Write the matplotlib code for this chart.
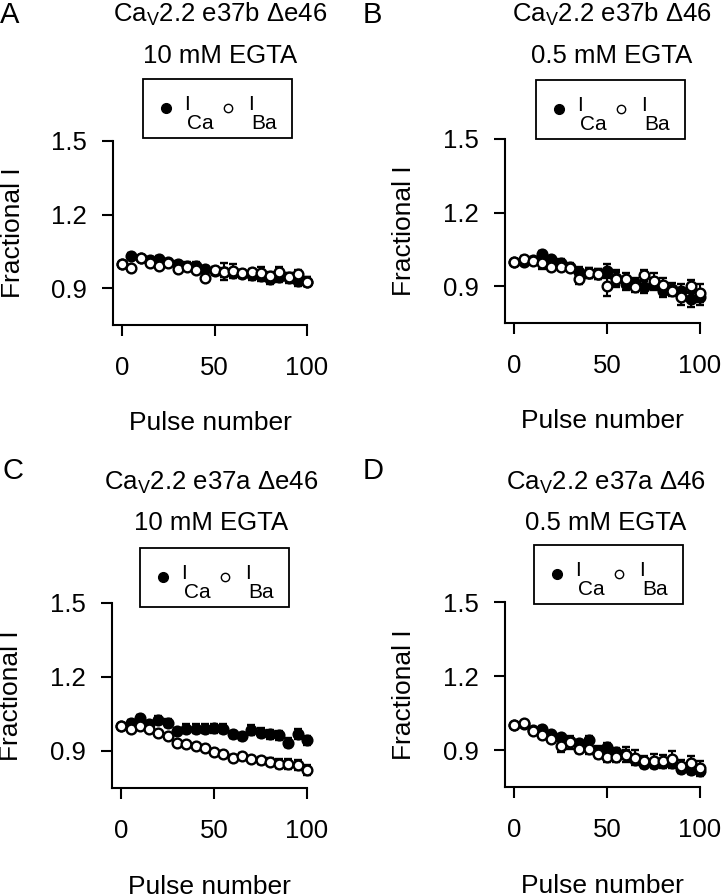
import matplotlib
matplotlib.use("Agg")
import matplotlib.pyplot as plt
from matplotlib.lines import Line2D
from matplotlib.patches import Rectangle
from matplotlib.transforms import Affine2D

plt.rcParams['font.family'] = ['Liberation Sans', 'DejaVu Sans']
plt.rcParams['mathtext.fontset'] = 'custom'
plt.rcParams['mathtext.rm'] = 'Liberation Sans'
plt.rcParams['mathtext.it'] = 'Liberation Sans:italic'

FS = 18.5
LFS = 15

pulses = [0, 5, 10, 15, 20, 25, 30, 35, 40, 45, 50, 55, 60, 65, 70, 75, 80, 85, 90, 95, 100]

A_ca = [1.00, 1.032, 1.022, 1.015, 1.018, 1.005, 1.000, 0.990, 0.990, 0.977, 0.970, 0.964, 0.960, 0.958, 0.954, 0.950, 0.937, 0.945, 0.940, 0.931, 0.927]
A_ca_err = [0.0, 0.012, 0.010, 0.012, 0.012, 0.012, 0.012, 0.015, 0.015, 0.015, 0.015, 0.020, 0.018, 0.018, 0.020, 0.020, 0.020, 0.020, 0.020, 0.020, 0.020]
A_ba = [1.00, 0.981, 1.022, 1.004, 0.992, 1.001, 0.977, 0.988, 0.974, 0.940, 0.974, 0.968, 0.972, 0.961, 0.965, 0.963, 0.950, 0.968, 0.945, 0.958, 0.927]
A_ba_err = [0.0, 0.008, 0.008, 0.010, 0.010, 0.010, 0.010, 0.010, 0.010, 0.010, 0.012, 0.035, 0.028, 0.015, 0.015, 0.025, 0.015, 0.020, 0.015, 0.015, 0.020]

B_ca = [1.00, 0.999, 1.005, 1.030, 1.010, 0.996, 0.980, 0.958, 0.955, 0.950, 0.962, 0.935, 0.908, 0.915, 0.897, 0.908, 0.881, 0.888, 0.881, 0.847, 0.854]
B_ca_err = [0.0, 0.010, 0.012, 0.015, 0.015, 0.015, 0.015, 0.020, 0.020, 0.020, 0.030, 0.030, 0.025, 0.020, 0.025, 0.025, 0.025, 0.025, 0.030, 0.030, 0.030]
B_ba = [1.00, 1.012, 1.003, 0.996, 0.980, 0.980, 0.976, 0.931, 0.955, 0.951, 0.901, 0.928, 0.928, 0.895, 0.945, 0.922, 0.904, 0.881, 0.854, 0.899, 0.872]
B_ba_err = [0.0, 0.010, 0.010, 0.025, 0.015, 0.015, 0.015, 0.020, 0.020, 0.020, 0.040, 0.030, 0.025, 0.020, 0.020, 0.030, 0.030, 0.020, 0.030, 0.025, 0.035]

C_ca = [1.00, 1.014, 1.032, 1.010, 1.025, 1.014, 0.980, 0.990, 0.990, 0.990, 0.992, 0.990, 0.967, 0.960, 0.985, 0.974, 0.967, 0.963, 0.934, 0.970, 0.944]
C_ca_err = [0.0, 0.010, 0.012, 0.012, 0.015, 0.015, 0.015, 0.018, 0.018, 0.018, 0.018, 0.018, 0.015, 0.015, 0.020, 0.018, 0.018, 0.018, 0.018, 0.020, 0.018]
C_ba = [1.00, 0.991, 1.000, 0.990, 0.974, 0.960, 0.934, 0.930, 0.920, 0.913, 0.897, 0.887, 0.873, 0.880, 0.869, 0.862, 0.857, 0.849, 0.849, 0.844, 0.823]
C_ba_err = [0.0, 0.005, 0.006, 0.006, 0.008, 0.008, 0.008, 0.008, 0.010, 0.010, 0.010, 0.012, 0.012, 0.012, 0.012, 0.015, 0.015, 0.018, 0.020, 0.020, 0.020]

D_ca = [1.00, 1.005, 0.980, 0.985, 0.965, 0.951, 0.938, 0.927, 0.940, 0.897, 0.911, 0.890, 0.881, 0.860, 0.843, 0.843, 0.846, 0.846, 0.823, 0.819, 0.816]
D_ca_err = [0.0, 0.008, 0.010, 0.012, 0.012, 0.015, 0.015, 0.015, 0.018, 0.018, 0.018, 0.018, 0.018, 0.018, 0.015, 0.015, 0.015, 0.018, 0.018, 0.018, 0.020]
D_ba = [1.00, 1.009, 0.976, 0.962, 0.945, 0.918, 0.931, 0.904, 0.904, 0.884, 0.873, 0.870, 0.881, 0.868, 0.857, 0.857, 0.854, 0.864, 0.836, 0.846, 0.827]
D_ba_err = [0.0, 0.005, 0.008, 0.010, 0.010, 0.025, 0.025, 0.015, 0.020, 0.015, 0.020, 0.020, 0.030, 0.030, 0.020, 0.025, 0.025, 0.030, 0.025, 0.030, 0.030]

titles1 = [r'Ca$_\mathregular{V}$2.2 e37b Δe46', r'Ca$_\mathregular{V}$2.2 e37b Δ46',
           r'Ca$_\mathregular{V}$2.2 e37a Δe46', r'Ca$_\mathregular{V}$2.2 e37a Δ46']
titles2 = ['10 mM EGTA', '0.5 mM EGTA', '10 mM EGTA', '0.5 mM EGTA']
letters = ['A', 'B', 'C', 'D']
yticks = [0.9, 1.2, 1.5]
ytick_labels = ['0.9', '1.2', '1.5']
xticks = [0, 50, 100]
xtick_labels = ['0', '50', '100']
legend_main = ['I', 'I']
legend_subs = ['Ca', 'Ba']

W, H = 722, 894
fig = plt.figure(figsize=(W / 100, H / 100), dpi=100)
# pixel coordinates measured from the top-left corner
px = Affine2D().scale(1 / W, -1 / H).translate(0, 1) + fig.transFigure

# axes rectangles in pixels: left, top(1.5), right(100), bottom spine
rects = [(113, 141, 307, 325), (505, 139, 700, 323), (112, 603, 307, 788), (505, 602, 700, 787)]
title_x = [220, 612, 211, 606]
title_base = [(22, 63), (22, 63), (490, 530), (490, 530)]
letter_pos = [(0, 23), (363, 23), (3, 479), (363, 479)]
legend_box = [(143, 79), (536, 80), (140, 548), (534, 545)]
LW_BOX, LH_BOX = 149, 59

data = [(A_ca, A_ca_err, A_ba, A_ba_err), (B_ca, B_ca_err, B_ba, B_ba_err),
        (C_ca, C_ca_err, C_ba, C_ba_err), (D_ca, D_ca_err, D_ba, D_ba_err)]

for i in range(4):
    l, t, r, b = rects[i]
    ax = fig.add_axes([l / W, 1 - b / H, (r - l) / W, (b - t) / H])
    ca, ca_err, ba, ba_err = data[i]
    ax.errorbar(pulses, ca, yerr=ca_err, fmt='o', color='black', mfc='black', mec='black',
                ms=7, mew=1.7, elinewidth=1.5, capsize=3, capthick=1.5, zorder=3, clip_on=False)
    ax.errorbar(pulses, ba, yerr=ba_err, fmt='o', color='black', mfc='white', mec='black',
                ms=7, mew=1.7, elinewidth=1.5, capsize=3, capthick=1.5, zorder=4, clip_on=False)
    ax.set_xlim(-5, 100)
    ax.set_ylim(0.75, 1.5)
    ax.set_xticks(xticks)
    ax.set_xticklabels(xtick_labels)
    ax.set_yticks(yticks)
    ax.set_yticklabels(ytick_labels)
    for s in ['top', 'right']:
        ax.spines[s].set_visible(False)
    for s in ['left', 'bottom']:
        ax.spines[s].set_linewidth(1.5)
    ax.tick_params(axis='both', direction='out', length=8, width=1.5, labelsize=FS)
    ax.tick_params(axis='x', pad=14)
    ax.tick_params(axis='y', pad=11)
    ax.set_ylabel('Fractional I', fontsize=FS + 0.5)
    ax.set_xlabel('Pulse number', fontsize=FS + 0.5)
    ax.yaxis.set_label_coords(-0.455, 0.5)
    ax.xaxis.set_label_coords(0.5, -0.47)

    # legend box drawn by hand (markers with the label's subscript set well below)
    bx, by = legend_box[i]
    fig.add_artist(Rectangle((bx, by + LH_BOX), LW_BOX, -LH_BOX, transform=px, fill=True,
                             facecolor='white', edgecolor='black', linewidth=1.3))
    fig.add_artist(Line2D([bx + 23], [by + 29], transform=px, ls='none', marker='o',
                          mfc='black', mec='black', ms=7, mew=1.0))
    fig.add_artist(Line2D([bx + 85], [by + 29], transform=px, ls='none', marker='o',
                          mfc='white', mec='black', ms=6, mew=1.0))
    for k, ox in enumerate([41, 105]):
        fig.text((bx + ox) / W, 1 - (by + 31) / H, legend_main[k], ha='left', va='baseline', fontsize=LFS)
        fig.text((bx + ox + 3) / W, 1 - (by + 50) / H, legend_subs[k], ha='left', va='baseline', fontsize=LFS)

    tx = title_x[i]
    b1, b2 = title_base[i]
    fig.text(tx / W, 1 - b1 / H, titles1[i], ha='center', va='baseline', fontsize=FS)
    fig.text(tx / W, 1 - b2 / H, titles2[i], ha='center', va='baseline', fontsize=FS)
    lx, ly = letter_pos[i]
    fig.text(lx / W, 1 - ly / H, letters[i], ha='left', va='baseline', fontsize=21)

fig.savefig('out.png', dpi=100)
